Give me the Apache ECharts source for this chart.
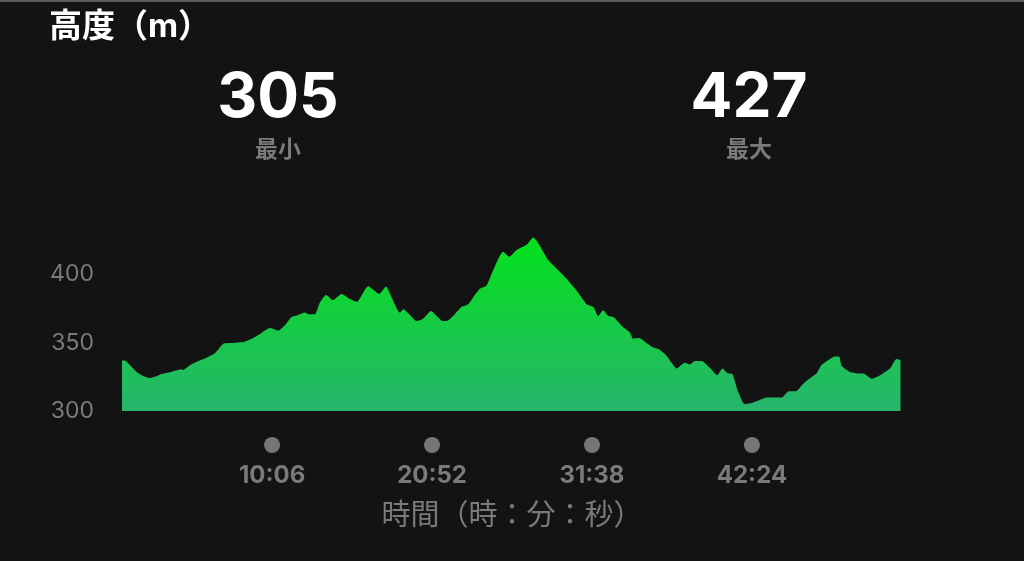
<!DOCTYPE html>
<html>
<head>
<meta charset="utf-8">
<title>高度</title>
<script src="https://cdn.jsdelivr.net/npm/echarts@6/dist/echarts.min.js"></script>
<style>
  html, body { margin: 0; padding: 0; background: #131313; }
  body { border-top: 2px solid #5a5a5a; box-sizing: border-box; }
  #grafico { width: 1024px; height: 559px; }
</style>
</head>
<body>
<div id="grafico"></div>
<script>
// elapsed time (s) and altitude (m)
var tempos = [0, 12, 32, 59, 86, 113, 133, 153, 187, 221, 241, 247, 275, 308, 342, 375, 409, 436, 463, 490,
  524, 557, 598, 631, 658, 685, 712, 739, 752, 779, 799, 824, 851, 887, 921, 948, 994, 1039, 1066, 1089,
  1122, 1136, 1163, 1190, 1216, 1248, 1271, 1295, 1317, 1344, 1372, 1398, 1418, 1445, 1472, 1499, 1539, 1564, 1594, 1634,
  1661, 1681, 1721, 1755, 1795, 1836, 1876, 1903, 1923, 1943, 1964, 1984, 2024, 2051, 2064, 2089, 2118, 2145, 2165, 2199,
  2219, 2240, 2273, 2293, 2314, 2341, 2374, 2404, 2425, 2448, 2462, 2488, 2515, 2542, 2576, 2603, 2664, 2690, 2724, 2751,
  2785, 2805, 2825, 2859, 2879, 2896, 2906, 2940, 2981, 2994, 3028, 3061, 3101, 3128, 3144];
var altitudes = [337, 337, 333.6, 328.6, 325.7, 324.2, 325, 326.6, 328.1, 329.9, 330.6, 330, 333.6, 336.6, 339, 342.2, 349.2, 349.7, 350, 350.4,
  352.9, 356.4, 360.8, 358.9, 362.8, 368.8, 370.3, 372, 370.8, 370.8, 379.4, 384.9, 381.2, 385.7, 381.9, 379.9, 391.3, 385.7, 391.1, 383.1,
  372, 374.5, 370.3, 365.8, 367.5, 373.2, 369.5, 365.8, 366.3, 370.8, 376.2, 378.2, 383.1, 389.4, 391.8, 403, 416.6, 412.9, 417.8, 421.6,
  427, 422.8, 410.4, 404.2, 396.8, 388.1, 378.2, 376.2, 369.5, 373.8, 369.5, 368.8, 361.3, 357.5, 352.9, 353.4, 349.7, 346.5, 345.5, 340.5,
  335.5, 331.1, 335.3, 334.1, 336.6, 336.6, 331.6, 326.2, 331.1, 327.4, 327.4, 314.3, 305, 305.8, 308, 309.8, 309.8, 314.3, 314.7, 319.9,
  324.9, 327.4, 333.6, 338.1, 339.8, 339.8, 333.1, 328.6, 327.4, 327.4, 323.6, 326.2, 331.1, 338.1, 337.3];
var marcasTempo = [606, 1252, 1898, 2544];
var rotulosY = [300, 350, 400];
var resumoValores = [305, 427];
var resumoNomes = ['最小', '最大'];

var fonte = 'Inter, "Noto Sans CJK JP", sans-serif';
var cinza = '#7a7a7a';

function mmss(v) {
    var m = Math.floor(v / 60), s = Math.round(v % 60);
    return m + ':' + (s < 10 ? '0' + s : s);
}

var dados = tempos.map(function (t, i) { return [t, altitudes[i]]; });

var dom = document.getElementById("grafico");
var myChart = echarts.init(dom);
var option = {
    backgroundColor: '#131313',
    animation: false,
    graphic: [
        { type: 'text', left: 49, top: 9, style: { text: '高度（m）', fill: '#fff', font: 'bold 33px ' + fonte } },
        { type: 'text', x: 278, y: 96, style: { text: String(resumoValores[0]), fill: '#fff', font: 'bold 62px ' + fonte, textAlign: 'center', textVerticalAlign: 'middle' } },
        { type: 'text', x: 278, y: 148, style: { text: resumoNomes[0], fill: cinza, font: 'bold 23px ' + fonte, textAlign: 'center', textVerticalAlign: 'middle' } },
        { type: 'text', x: 749, y: 96, style: { text: String(resumoValores[1]), fill: '#fff', font: 'bold 62px ' + fonte, textAlign: 'center', textVerticalAlign: 'middle' } },
        { type: 'text', x: 749, y: 148, style: { text: resumoNomes[1], fill: cinza, font: 'bold 23px ' + fonte, textAlign: 'center', textVerticalAlign: 'middle' } }
    ],
    grid: { left: 122, right: 122, top: 204, bottom: 150 },
    xAxis: {
        type: 'value',
        min: 0,
        max: 3150,
        name: '時間（時：分：秒）',
        nameLocation: 'middle',
        nameGap: 91,
        nameTextStyle: { color: cinza, fontSize: 29, fontFamily: fonte },
        axisLine: { show: false },
        axisTick: { show: false },
        splitLine: { show: false },
        axisLabel: {
            customValues: marcasTempo,
            margin: 25,
            formatter: function (v) { return '{d| }\n{t|' + mmss(v) + '}'; },
            rich: {
                d: { width: 16, height: 16, borderRadius: 8, backgroundColor: '#767676', lineHeight: 18 },
                t: { color: cinza, fontSize: 24, fontWeight: 'bold', fontFamily: fonte, lineHeight: 44 }
            }
        }
    },
    yAxis: {
        type: 'value',
        min: 300,
        max: 450,
        interval: 50,
        axisLine: { show: false },
        axisTick: { show: false },
        splitLine: { show: false },
        axisLabel: {
            customValues: rotulosY,
            margin: 28,
            color: cinza,
            fontSize: 23,
            fontFamily: fonte
        }
    },
    series: [{
        type: 'line',
        data: dados,
        showSymbol: false,
        smooth: 0.2,
        lineStyle: { width: 0 },
        areaStyle: {
            opacity: 1,
            color: new echarts.graphic.LinearGradient(0, 0, 0, 1, [
                { offset: 0, color: '#04e21a' },
                { offset: 1, color: '#27b46e' }
            ])
        }
    }]
};
myChart.setOption(option, true);
</script>
</body>
</html>
